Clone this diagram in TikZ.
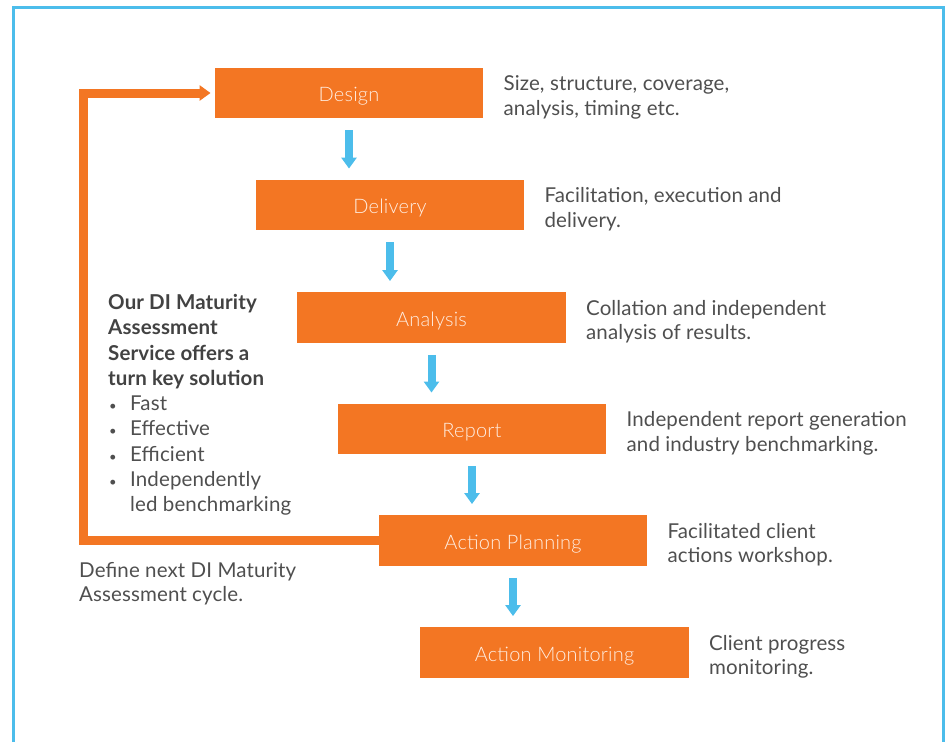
\documentclass[tikz,border=0pt]{standalone}
\usepackage{fontspec}
\setmainfont{Lato}[LetterSpace=0.6]
\IfFontExistsTF{Lato Light}{\newfontfamily\lightfont{Lato Light}[LetterSpace=1]}{\newfontfamily\lightfont{Lato}[LetterSpace=1]}
\usetikzlibrary{arrows.meta,calc}
\definecolor{boxorange}{HTML}{F37623}
\definecolor{arrowblue}{HTML}{4CBDEB}
\definecolor{txtgrey}{HTML}{4F4F4F}
\definecolor{boldgrey}{HTML}{424242}
\definecolor{labelcol}{HTML}{FFEEE2}
\begin{document}
\begin{tikzpicture}[x=1pt,y=-1pt,
  stepbox/.style={fill=boxorange, minimum width=268.5pt, minimum height=50.5pt, inner sep=0pt,
    text=labelcol, font=\lightfont\fontsize{20}{24}\selectfont, text height=17pt, text depth=0pt},
  desc/.style={anchor=north west, inner sep=0pt, align=left, text=txtgrey,
    font=\fontsize{20.5}{24.5}\selectfont},
  sidetext/.style={anchor=north west, inner sep=0pt, align=left, text=txtgrey,
    font=\fontsize{20.5}{25.3}\selectfont},
  flow/.style={draw=arrowblue, line width=8pt, -{Triangle[width=15pt,length=11pt]}},
  loopline/.style={draw=boxorange, line width=9pt, line join=miter, -{Triangle[width=15pt,length=11pt]}},
  frame/.style={draw=arrowblue, line width=3pt},
  ]
\useasboundingbox (0,0) rectangle (949,742);
\draw[frame] (13.5,742) -- (13.5,7.5) -- (943,7.5) -- (943,742);

\node[stepbox] (design) at (349,93) {Design};
\node[stepbox] (delivery) at (390,205) {Delivery};
\node[stepbox] (analysis) at (431.5,317.5) {Analysis};
\node[stepbox] (report) at (472,429) {Report};
\node[stepbox] (planning) at (513,540.5) {Action Planning};
\node[stepbox] (monitoring) at (554.5,652.5) {Action Monitoring};

\draw[flow] ($(design.south)+(0,12)$) -- ($(design.south |- delivery.north)+(0,-11)$);
\draw[flow] ($(delivery.south)+(0,12)$) -- ($(delivery.south |- analysis.north)+(0,-11)$);
\draw[flow] ($(analysis.south)+(0,12)$) -- ($(analysis.south |- report.north)+(0,-11)$);
\draw[flow] ($(report.south)+(0,12)$) -- ($(report.south |- planning.north)+(0,-11)$);
\draw[flow] ($(planning.south)+(0,12)$) -- ($(planning.south |- monitoring.north)+(0,-11)$);

\coordinate (loopx) at (83.5,0);
\draw[loopline] (planning.west) -- (planning.west -| loopx) -- (design.west -| loopx) -- ($(design.west)+(-4,0)$);

\node[desc] (tdesign) at ($(design.east)+(20,-19.65)$) {\strut Size, structure, coverage,\\analysis, timing etc.};
\node[desc] (tdelivery) at ($(delivery.east)+(20,-19.65)$) {\strut Facilitation, execution and\\delivery.};
\node[desc] (tanalysis) at ($(analysis.east)+(20,-19.65)$) {\strut Collation and independent\\analysis of results.};
\node[desc] (treport) at ($(report.east)+(20,-19.65)$) {\strut Independent report generation\\and industry benchmarking.};
\node[desc] (tplanning) at ($(planning.east)+(20,-19.65)$) {\strut Facilitated client\\actions workshop.};
\node[desc] (tmonitoring) at ($(monitoring.east)+(20,-19.65)$) {\strut Client progress\\monitoring.};

\node[sidetext] (service) at (108,291.5) {%
\strut\textcolor{boldgrey}{\bfseries Our DI Maturity}\\
\textcolor{boldgrey}{\bfseries Assessment}\\
\textcolor{boldgrey}{\bfseries Service offers a}\\
\textcolor{boldgrey}{\bfseries turn key solution}\\
\makebox[22pt][l]{\hspace*{1pt}\fontsize{13}{13}\selectfont\textbullet}Fast\\
\makebox[22pt][l]{\hspace*{1pt}\fontsize{13}{13}\selectfont\textbullet}Effective\\
\makebox[22pt][l]{\hspace*{1pt}\fontsize{13}{13}\selectfont\textbullet}Efficient\\
\makebox[22pt][l]{\hspace*{1pt}\fontsize{13}{13}\selectfont\textbullet}Independently\\
\hspace*{22pt}led benchmarking};

\node[desc] (nextcycle) at (79,559.85) {\strut Define next DI Maturity\\Assessment cycle.};
\end{tikzpicture}
\end{document}
